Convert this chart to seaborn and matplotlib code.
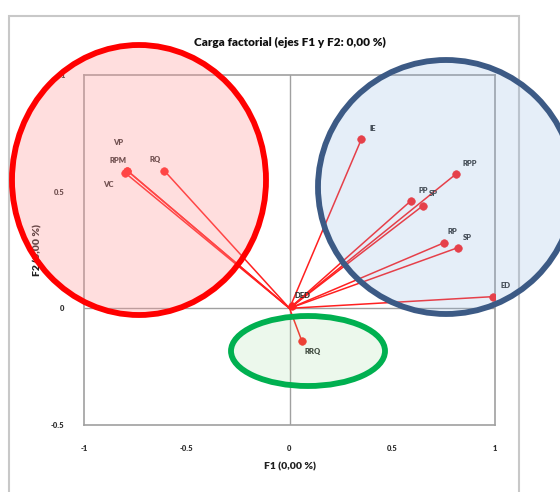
import matplotlib.pyplot as plt
import seaborn as sns
import numpy as np
import pandas as pd
from matplotlib.patches import Ellipse, Rectangle

sns.set_theme(style="white")
plt.rcParams['font.family'] = ['Lato', 'DejaVu Sans']

# Factor loadings
variables = ['VP', 'RPM', 'VC', 'RQ', 'IE', 'RPP', 'PP', 'SP', 'RP', 'ESP', 'ED', 'RRQ', 'DED']
f1 = [-0.79, -0.79, -0.80, -0.61, 0.35, 0.81, 0.59, 0.65, 0.75, 0.82, 0.99, 0.06, 0.01]
f2 = [0.59, 0.59, 0.58, 0.59, 0.725, 0.575, 0.46, 0.44, 0.28, 0.26, 0.05, -0.14, 0.01]
label_text = ['VP', 'RPM', 'VC', 'RQ', 'IE', 'RPP', 'PP', 'SP', 'RP', 'SP', 'ED', 'RRQ', 'DED']
# label offsets in pixels
label_dx = [-9, -9, -17, -9, 11, 14, 12, 10, 9, 9, 13, 11, 11]
label_dy = [28, 10, -12, 11, 11, 11, 10, 12, 11, 10, 11, -10, 10]

ticks = [-1, -0.5, 0, 0.5, 1]
tick_labels = ['-1', '-0.5', '0', '0.5', '1']
y_ticks = [-0.5, 0, 0.5, 1]
y_tick_labels = ['-0.5', '0', '0.5', '1']

df = pd.DataFrame({'var': variables, 'F1': f1, 'F2': f2})

fig = plt.figure(figsize=(5.6, 4.92), dpi=100)
ax = fig.add_axes([0.15, 0.136, 0.734, 0.712])

# chart frame
fig.patches.append(Rectangle((9 / 560, -0.05), 510 / 560, 1 - 16 / 492 + 0.05,
                             transform=fig.transFigure, fill=False,
                             edgecolor='#c8c8c8', linewidth=1.5, zorder=0))

ax.axhline(0, color='#a0a0a0', linewidth=1, zorder=1)
ax.axvline(0, color='#a0a0a0', linewidth=1, zorder=1)

for x, y in zip(df['F1'], df['F2']):
    ax.plot([0, x], [0, y], color='#ff2020', linewidth=1.1, zorder=2)

sns.scatterplot(data=df, x='F1', y='F2', color='#ff2020', s=30,
                edgecolor='#ff2020', ax=ax, zorder=3, legend=False)

for t, x, y, dx, dy in zip(label_text, df['F1'], df['F2'], label_dx, label_dy):
    ax.annotate(t, (x, y), xytext=(dx, dy), textcoords='offset pixels',
                ha='center', va='center', fontsize=5.5, fontweight='heavy',
                color='#303030', zorder=4)

ax.set_xlim(-1, 1)
ax.set_ylim(-0.5, 1)
ax.set_xticks(ticks)
ax.set_xticklabels(tick_labels, fontsize=5.5, fontweight='heavy', color='#303030')
ax.set_yticks(y_ticks)
ax.set_yticklabels(y_tick_labels, fontsize=5.5, fontweight='heavy', color='#303030')
ax.tick_params(axis='x', pad=14, length=0)
ax.tick_params(axis='y', pad=14, length=0)
for s in ax.spines.values():
    s.set_color('#a0a0a0')
    s.set_linewidth(1.2)

ax.set_xlabel('F1 (0,00 %)', fontsize=7.5, fontweight='heavy', color='#202020', labelpad=8)
ax.set_ylabel('F2 (0,00 %)', fontsize=7.5, fontweight='heavy', color='#202020')
ax.yaxis.set_label_coords(-0.102, 0.5)
ax.set_title('Carga factorial (ejes F1 y F2: 0,00 %)', fontsize=8.5, fontweight='heavy',
             color='#101010', pad=21)

# highlight ellipses in figure pixels
def fig_ellipse(cx, cy, w, h, face, edge):
    e = Ellipse((cx / 560, 1 - cy / 492), w / 560, h / 492, transform=fig.transFigure,
                facecolor=face, edgecolor=edge, linewidth=4.2, zorder=5)
    fig.patches.append(e)

fig_ellipse(139, 180, 254, 270, (1.0, 0.6, 0.6, 0.32), '#ff0000')
fig_ellipse(446, 187, 256, 254, (0.55, 0.7, 0.88, 0.22), '#3c5a85')
fig_ellipse(308, 351, 154, 70, (0.6, 0.85, 0.6, 0.18), '#00b050')

fig.savefig('out.png', dpi=100)
